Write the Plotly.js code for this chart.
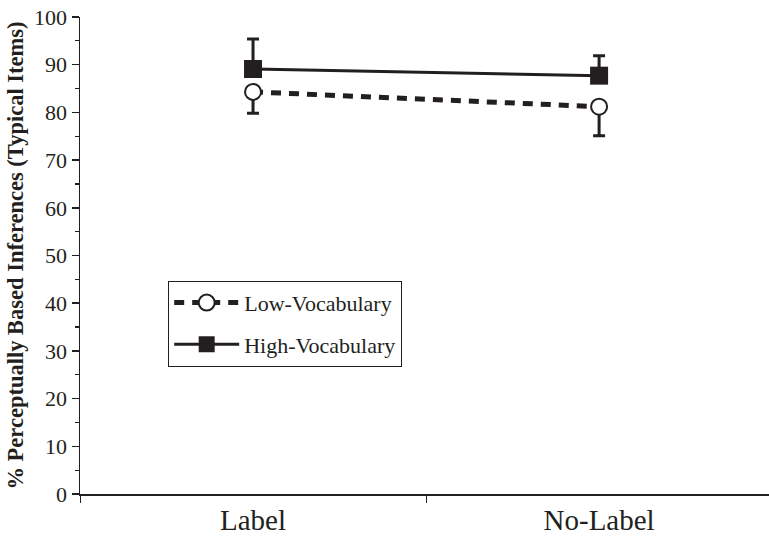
<!DOCTYPE html>
<html><head><meta charset="utf-8">
<script src="https://cdn.plot.ly/plotly-3.0.1.min.js"></script>
<style>body{margin:0}</style>
</head><body>
<div id="chart" style="width:769px;height:536px"></div>
<script>
const categories = ["Label", "No-Label"];
const lowVocab = [84.3, 81.2];
const lowVocabErrMinus = [4.5, 6.1];
const highVocab = [89.1, 87.7];
const highVocabErrPlus = [6.3, 4.2];
const seriesNames = ["Low-Vocabulary", "High-Vocabulary"];
const yTitle = "% Perceptually Based Inferences (Typical Items)";
const FONT = "Times New Roman, Liberation Serif, serif";

const traces = [
  {
    x: categories, y: lowVocab, name: seriesNames[0], type: "scatter", mode: "lines+markers",
    legendgroup: "a",
    line: {color: "#231f20", width: 5, dash: "10px,8px"},
    marker: {symbol: "circle", size: 16, color: "white", line: {color: "#231f20", width: 2}},
    error_y: {type: "data", symmetric: false, array: [0, 0], arrayminus: lowVocabErrMinus,
              color: "#231f20", thickness: 3, width: 6}
  },
  {
    x: categories, y: highVocab, name: seriesNames[1], type: "scatter", mode: "lines+markers",
    legendgroup: "b",
    line: {color: "#231f20", width: 3},
    marker: {symbol: "square", size: 18, color: "#231f20"},
    error_y: {type: "data", symmetric: false, array: highVocabErrPlus, arrayminus: [0, 0],
              color: "#231f20", thickness: 3, width: 6}
  }
];

const layout = {
  width: 769, height: 536,
  margin: {l: 80, r: 0, t: 17, b: 42},
  paper_bgcolor: "white", plot_bgcolor: "white",
  font: {family: FONT, color: "#231f20"},
  showlegend: true,
  legend: {
    x: 0.128, y: 0.447, xanchor: "left", yanchor: "top",
    bordercolor: "#231f20", borderwidth: 1, bgcolor: "white",
    font: {size: 22, family: FONT},
    traceorder: "grouped", itemwidth: 65, tracegroupgap: 10
  },
  xaxis: {
    type: "category", range: [-0.5, 1.491],
    tickson: "boundaries", ticks: "outside", ticklen: 7, tickwidth: 1, tickcolor: "#231f20",
    showline: true, linecolor: "#231f20", linewidth: 1.5,
    showgrid: false, zeroline: false,
    tickfont: {size: 29, family: FONT}
  },
  yaxis: {
    range: [0, 100], dtick: 10, ticks: "outside", ticklen: 7, tickwidth: 1.5, tickcolor: "#231f20",
    minor: {dtick: 5, ticks: "outside", ticklen: 4, tickwidth: 1.2, tickcolor: "#231f20"},
    showline: true, linecolor: "#231f20", linewidth: 1.5,
    showgrid: false, zeroline: false,
    tickfont: {size: 22, family: FONT},
    title: {text: yTitle, font: {size: 22.5, family: FONT, weight: "bold"}, standoff: 4}
  }
};

Plotly.newPlot("chart", traces, layout, {displayModeBar: false, staticPlot: true});
</script>
</body></html>
